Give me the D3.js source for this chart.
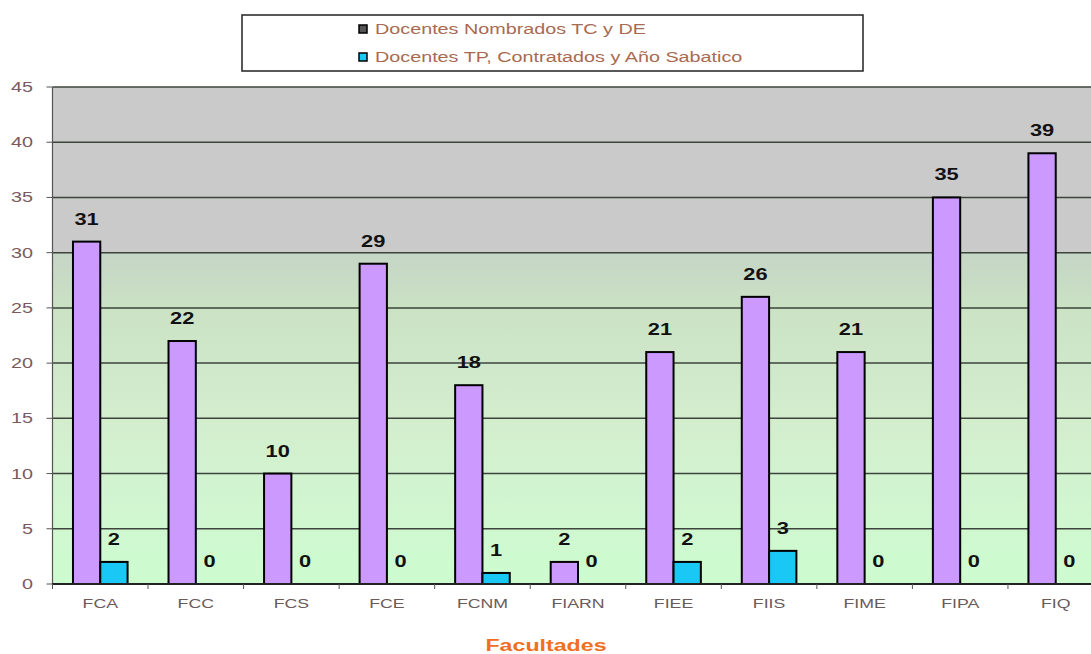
<!DOCTYPE html>
<html><head><meta charset="utf-8">
<script src="https://cdn.jsdelivr.net/npm/d3@7"></script>
<style>body{margin:0;background:#fff;overflow:hidden}svg{display:block}</style>
</head><body>
<svg id="c" width="1091" height="654"></svg>
<script>
const categories = ["FCA","FCC","FCS","FCE","FCNM","FIARN","FIEE","FIIS","FIME","FIPA","FIQ"];
const nombrados = [31,22,10,29,18,2,21,26,21,35,39];
const contratados = [2,0,0,0,1,0,2,3,0,0,0];
const seriesNames = ["Docentes Nombrados TC y DE","Docentes TP, Contratados  y Año Sabatico"];
const yTicks = [0,5,10,15,20,25,30,35,40,45];
const axisTitle = "Facultades";

const FONT = "Liberation Sans, Arial, sans-serif";
const SX = 1.364; // horizontal stretch of the original picture
const svg = d3.select("#c");
const m = {l:52.5, t:87, b:584, r:1103.5};
const x = d3.scaleBand().domain(categories).range([m.l, m.r]).paddingInner(0).paddingOuter(0);
const y = d3.scaleLinear().domain([0,45]).range([m.b, m.t]);
const bw = x.bandwidth()/3.5;
const off = bw*0.75;

function stext(sel, data, fx, fy, txt, attrs){
  const gs = sel.selectAll(null).data(data).join("g")
    .attr("transform",(d,i)=>`translate(${fx(d,i)},${fy(d,i)}) scale(${SX},1)`);
  const t = gs.append("text").attr("font-family",FONT).text(txt);
  Object.entries(attrs).forEach(([k,v])=>t.attr(k,v));
  return t;
}

const defs = svg.append("defs");
const g = defs.append("linearGradient").attr("id","bg").attr("x1",0).attr("y1",0).attr("x2",0).attr("y2",1);
[[0,"#cacaca"],[0.33,"#cacaca"],[0.335,"#c5d6c6"],[0.40,"#c8dcc4"],[0.445,"#cbe2c4"],[0.56,"#d0e8ca"],[0.67,"#d3edcd"],[0.78,"#d2f3d0"],[1,"#cdfccf"]]
  .forEach(s=>g.append("stop").attr("offset",s[0]).attr("stop-color",s[1]));

svg.append("rect").attr("x",m.l).attr("y",m.t).attr("width",m.r-m.l).attr("height",m.b-m.t).attr("fill","url(#bg)");

// gridlines
svg.append("g").selectAll("line").data(yTicks.filter(d=>d>0)).join("line")
  .attr("x1",m.l).attr("x2",m.r).attr("y1",d=>y(d)).attr("y2",d=>y(d))
  .attr("stroke","#3c443c").attr("stroke-width",1.5);

// y axis
const ya = svg.append("g");
ya.append("line").attr("x1",m.l).attr("x2",m.l).attr("y1",m.t).attr("y2",m.b).attr("stroke","#555").attr("stroke-width",1.2);
ya.selectAll("line.t").data(yTicks).join("line")
  .attr("x1",m.l-6).attr("x2",m.l).attr("y1",d=>y(d)).attr("y2",d=>y(d)).attr("stroke","#555");
stext(ya, yTicks, ()=>33, d=>y(d)+5, d=>d,
  {"font-size":14.5,"fill":"#7a5a60","text-anchor":"end"});

// bars
const bars = svg.append("g");
bars.selectAll("rect.n").data(categories).join("rect")
  .attr("x",(d)=>x(d)+off).attr("width",bw)
  .attr("y",(d,i)=>y(nombrados[i])).attr("height",(d,i)=>y(0)-y(nombrados[i]))
  .attr("fill","#cc99ff").attr("stroke","#000").attr("stroke-width",2);
bars.selectAll("rect.c").data(categories).join("rect")
  .attr("x",(d)=>x(d)+off+bw).attr("width",bw)
  .attr("y",(d,i)=>y(contratados[i])).attr("height",(d,i)=>y(0)-y(contratados[i]))
  .attr("fill","#19c8f5").attr("stroke","#000").attr("stroke-width",2)
  .attr("display",(d,i)=>contratados[i]>0?null:"none");

// x axis
const xa = svg.append("g");
xa.append("line").attr("x1",m.l).attr("x2",m.r).attr("y1",m.b).attr("y2",m.b).attr("stroke","#222").attr("stroke-width",2);
xa.selectAll("line.t").data(categories).join("line")
  .attr("x1",d=>x(d)).attr("x2",d=>x(d)).attr("y1",m.b).attr("y2",m.b+5).attr("stroke","#555");
stext(xa, categories, d=>x(d)+x.bandwidth()/2, ()=>m.b+24, d=>d,
  {"font-size":13,"fill":"#6a5a5a","text-anchor":"middle"});

// value labels
const lab = svg.append("g");
stext(lab, categories, d=>x(d)+off+bw/2, (d,i)=>y(nombrados[i])-17, (d,i)=>nombrados[i],
  {"font-size":16,"font-weight":"bold","fill":"#111","text-anchor":"middle"});
stext(lab, categories, d=>x(d)+off+bw*1.5, (d,i)=>y(contratados[i])-17, (d,i)=>contratados[i],
  {"font-size":16,"font-weight":"bold","fill":"#111","text-anchor":"middle"});

// axis title
stext(svg.append("g"), [axisTitle], ()=>546, ()=>651, d=>d,
  {"font-size":17,"font-weight":"bold","fill":"#f07020","text-anchor":"middle"});

// legend
const lg = svg.append("g");
lg.append("rect").attr("x",242).attr("y",15).attr("width",621).attr("height",56)
  .attr("fill","#fff").attr("stroke","#222").attr("stroke-width",1.5);
const legFills = ["#555","#19c8f5"];
seriesNames.forEach((s,i)=>{
  const yy = 29 + i*28;
  lg.append("rect").attr("x",359).attr("y",yy-4).attr("width",8).attr("height",8)
    .attr("fill",legFills[i]).attr("stroke","#000").attr("stroke-width",1.5);
});
stext(lg, seriesNames, ()=>375, (d,i)=>29+i*28+5, d=>d,
  {"font-size":14.5,"fill":"#a86a50","text-anchor":"start"});
</script>
</body></html>
